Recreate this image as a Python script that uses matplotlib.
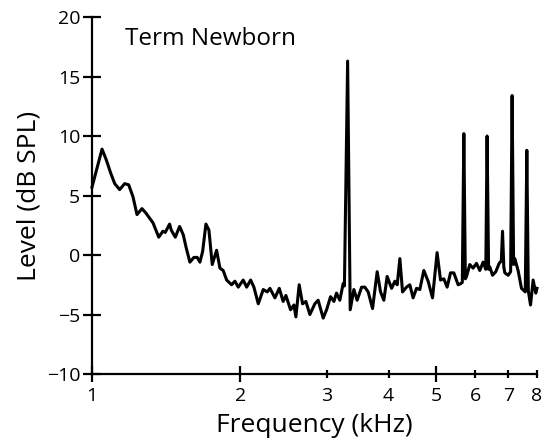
import matplotlib
matplotlib.use('Agg')
import matplotlib.pyplot as plt

plt.rcParams['font.family'] = ['Open Sans', 'DejaVu Sans']

freq_khz = [1.000, 1.048, 1.069, 1.091, 1.112, 1.138, 1.165, 1.187, 1.211, 1.234,
            1.263, 1.288, 1.330, 1.366, 1.393, 1.408, 1.437, 1.448, 1.476, 1.506,
            1.532, 1.551, 1.580, 1.610, 1.635, 1.656, 1.677, 1.703, 1.727, 1.754,
            1.790, 1.818, 1.846, 1.876, 1.920, 1.950, 1.981, 2.027, 2.060, 2.099,
            2.131, 2.175, 2.226, 2.268, 2.297, 2.351, 2.399, 2.443, 2.475, 2.529,
            2.569, 2.593, 2.633, 2.675, 2.717, 2.768, 2.833, 2.877, 2.946, 2.993,
            3.049, 3.097, 3.135, 3.184, 3.234, 3.253, 3.302, 3.342, 3.400, 3.452,
            3.525, 3.579, 3.635, 3.710, 3.791, 3.851, 3.911, 3.972, 4.055, 4.118,
            4.163, 4.215, 4.268, 4.348, 4.416, 4.484, 4.556, 4.627, 4.714, 4.810,
            4.910, 5.016, 5.097, 5.176, 5.257, 5.341, 5.424, 5.534, 5.604, 5.643,
            5.684, 5.724, 5.756, 5.844, 5.935, 6.030, 6.124, 6.219, 6.298, 6.336,
            6.381, 6.417, 6.499, 6.600, 6.703, 6.771, 6.810, 6.851, 6.883, 6.990,
            7.073, 7.122, 7.172, 7.211, 7.324, 7.441, 7.574, 7.629, 7.682, 7.762,
            7.857, 7.955, 8.000]

level_db = [5.7, 8.9, 8.0, 6.9, 6.0, 5.5, 6.0, 5.9, 4.9, 3.4,
            3.9, 3.5, 2.7, 1.5, 2.0, 1.9, 2.6, 2.1, 1.5, 2.4,
            1.7, 0.7, -0.6, -0.2, -0.2, -0.6, 0.3, 2.6, 2.1, -0.8,
            0.4, -1.1, -1.3, -2.1, -2.5, -2.2, -2.7, -2.1, -2.7, -2.1,
            -2.7, -4.1, -2.9, -3.1, -2.8, -3.6, -2.8, -3.9, -3.4, -4.6,
            -4.2, -5.2, -2.5, -4.1, -3.9, -5.0, -4.1, -3.8, -5.3, -4.6,
            -3.5, -3.9, -3.2, -3.8, -2.4, -2.6, 16.3, -4.6, -2.9, -3.8,
            -2.7, -2.7, -3.1, -4.5, -1.4, -3.1, -3.8, -1.8, -2.8, -2.2,
            -2.5, -0.3, -3.1, -2.7, -2.5, -3.6, -2.8, -2.9, -1.3, -2.2,
            -3.6, 0.2, -2.1, -2.0, -2.7, -1.5, -1.5, -2.5, -2.4, -2.3,
            10.2, -2.0, -1.8, -0.8, -1.1, -0.7, -1.3, -0.6, -1.2, 10.0,
            -1.2, -1.0, -1.7, -1.4, -0.7, -0.5, 2.0, -1.0, -1.5, -1.7,
            -1.4, 13.4, -0.8, -0.3, -1.3, -2.8, -3.1, 8.8, -3.0, -4.2,
            -2.1, -3.2, -2.8]

y_ticks = [-10, -5, 0, 5, 10, 15, 20]
x_major_ticks = [1, 2, 5]
x_minor_ticks = [3, 4, 6, 7, 8]

fig = plt.figure(figsize=(5.45, 4.46), dpi=100)
ax = fig.add_axes([0.1688, 0.1614, 0.8165, 0.8004])
ax.plot(freq_khz, level_db, color='black', lw=2.2, solid_joinstyle='round', clip_on=False)
ax.set_xscale('log')
ax.set_xlim(1, 8)
ax.set_ylim(-10, 20)

for s in ['top', 'right']:
    ax.spines[s].set_visible(False)
for s in ['left', 'bottom']:
    ax.spines[s].set_linewidth(1.6)

ax.set_xticks(x_major_ticks, labels=[str(t) for t in x_major_ticks])
ax.set_xticks(x_minor_ticks, labels=[str(t) for t in x_minor_ticks], minor=True)
ax.set_yticks(y_ticks, labels=[str(t).replace('-', '\u2212') for t in y_ticks])
ax.yaxis.set_minor_locator(matplotlib.ticker.NullLocator())

ax.tick_params(axis='x', which='major', direction='inout', length=12, width=1.6,
               labelsize=14, pad=3)
ax.tick_params(axis='x', which='minor', direction='inout', length=6, width=1.6,
               labelsize=14, pad=6)
ax.tick_params(axis='y', which='major', direction='inout', length=13, width=1.6,
               labelsize=14, pad=2)

ax.set_xlabel('Frequency (kHz)', fontsize=19, labelpad=6)
ax.set_ylabel('Level (dB SPL)', fontsize=19, labelpad=4)

ax.text(0.074, 0.9216, 'Term Newborn', transform=ax.transAxes, fontsize=17.5,
        ha='left', va='baseline')

fig.savefig('out.png', dpi=100)
